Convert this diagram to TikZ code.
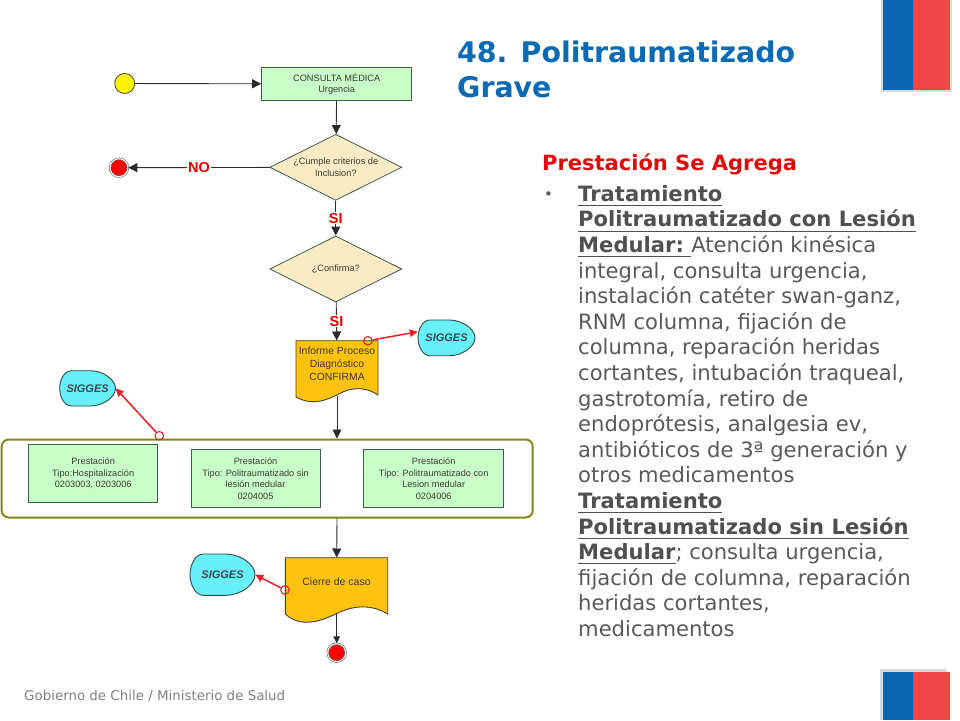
\documentclass[tikz,border=0pt]{standalone}
\usepackage{fontspec}
\setmainfont{DejaVu Sans}
\newfontfamily\arialf{Liberation Sans}
\usetikzlibrary{arrows.meta,shapes.geometric,calc}
\definecolor{bluef}{HTML}{0B66B2}
\definecolor{redf}{HTML}{F24646}
\definecolor{titleblue}{HTML}{0B6AB4}
\definecolor{headred}{HTML}{E00A0A}
\definecolor{bodygray}{HTML}{595959}
\definecolor{boldgray}{HTML}{505050}
\definecolor{greenbox}{HTML}{C8FFC8}
\definecolor{cream}{HTML}{FBEBC4}
\definecolor{orangedoc}{HTML}{FFC20E}
\definecolor{cyansig}{HTML}{66F0FA}
\definecolor{olivef}{HTML}{85851E}
\definecolor{linegray}{HTML}{2B2B2B}
\definecolor{edgegray}{HTML}{3F5A50}
\definecolor{txtdark}{HTML}{3A3A30}
\definecolor{redline}{HTML}{EE1C25}
\tikzset{
  x=1pt,y=-1pt,
  flow/.style={draw=linegray,line width=0.9pt,-{Triangle[length=9pt,width=9pt]}},
  flowsmall/.style={draw=linegray,line width=0.9pt,-{Triangle[length=7pt,width=6.5pt]}},
  redarrow/.style={draw=redline,line width=1.5pt,-{Triangle[length=8pt,width=7.5pt]}},
  procbox/.style={draw=edgegray,line width=1pt,fill=greenbox,rectangle,inner sep=0pt,align=center,text=txtdark,font=\arialf\fontsize{9.2}{11.6}\selectfont},
  decision/.style={diamond,aspect=2,draw=edgegray,line width=0.8pt,fill=cream,inner sep=0pt,align=center,text=txtdark,font=\arialf\fontsize{9.2}{11.6}\selectfont},
  decisionlabel/.style={text=red!90!black,fill=white,inner sep=0.8pt,font=\arialf\bfseries\fontsize{14.5}{15}\selectfont},
  startdot/.style={circle,draw=black!75,line width=0.8pt,fill=yellow,minimum size=20pt,inner sep=0pt},
  enddot/.style={circle,draw=black!60,double=white,double distance=1pt,line width=0.6pt,fill=red,minimum size=18pt,inner sep=0pt},
  ringdot/.style={circle,draw=redline,line width=1.1pt,minimum size=8.5pt,inner sep=0pt},
  siglabel/.style={inner sep=0pt,text=black!80!cyan,font=\arialf\bfseries\itshape\fontsize{11}{12}\selectfont},
  docshape/.style={draw=black!75,line width=0.9pt,fill=orangedoc},
  sigshape/.style={draw=edgegray!80!black,line width=0.9pt,fill=cyansig},
  doctext/.style={inner sep=0pt,align=center,text=txtdark,font=\arialf\fontsize{10.4}{13}\selectfont},
  flagblue/.style={fill=bluef,draw=none},
  flagred/.style={fill=redf,draw=none},
  flagshadow/.style={fill=black!15,draw=none},
}
\newcommand{\SigShape}[5]{% name x0 y0 x1 y1
  \pgfmathsetmacro{\sgw}{#4-#2}\pgfmathsetmacro{\sgh}{#5-#3}\pgfmathsetmacro{\ym}{(#3+#5)/2}
  \pgfmathsetmacro{\xa}{#2+0.2*\sgw}\pgfmathsetmacro{\xb}{#2+0.55*\sgw}
  \pgfmathsetmacro{\ka}{#2+0.09*\sgw}\pgfmathsetmacro{\kb}{\xb+0.5*(#4-\xb)}
  \pgfmathsetmacro{\kh}{0.25*\sgh}
  \draw[sigshape] (#2,\ym) .. controls (#2,\ym-\kh) and (\ka,#3) .. (\xa,#3)
    -- (\xb,#3) .. controls (\kb,#3) and (#4,\ym-\kh) .. (#4,\ym)
    .. controls (#4,\ym+\kh) and (\kb,#5) .. (\xb,#5) -- (\xa,#5)
    .. controls (\ka,#5) and (#2,\ym+\kh) .. cycle;
  \node[siglabel,minimum width=\sgw pt,minimum height=\sgh pt] (#1) at ({(#2+#4)/2},\ym) {SIGGES};
}
\newcommand{\bul}[1]{{\bfseries\color{boldgray}\underline{\rule[-2.5pt]{0pt}{1pt}#1}}}
\begin{document}
\begin{tikzpicture}
\useasboundingbox (0,0) rectangle (960,720);
\fill[white] (0,0) rectangle (960,720);
% flags
\fill[flagshadow] (881,0) rectangle (952,91.5);
\fill[flagblue] (883,0) rectangle (913,89.5);
\fill[flagred] (913,0) rectangle (950,89.5);
\fill[flagshadow] (880,669) rectangle (947,720);
\fill[flagblue] (883,672) rectangle (913,720);
\fill[flagred] (913,672) rectangle (950,720);
% title and text
\node[anchor=north west,inner sep=0pt,align=left,text=titleblue,font=\bfseries\fontsize{28.4}{35}\selectfont] (title) at (457,40.5) {48. Politraumatizado\\Grave};
\node[anchor=base west,inner sep=0pt,text=headred,font=\bfseries\fontsize{21}{24}\selectfont] (head) at (542,170) {Prestación Se Agrega};
\node[anchor=base west,inner sep=0pt,text=bodygray,font=\fontsize{15}{15}\selectfont] (bullet) at (544,199) {•};
\node[anchor=north west,inner sep=0pt,align=left,text=bodygray,font=\fontsize{21.1}{25.6}\selectfont] (body) at (578,185) {%
\bul{Tratamiento}\\
\bul{Politraumatizado con Lesión}\\
\bul{Medular:~}Atención kinésica\\
integral, consulta urgencia,\\
instalación catéter swan-ganz,\\
RNM columna, fijación de\\
columna, reparación heridas\\
cortantes, intubación traqueal,\\
gastrotomía, retiro de\\
endoprótesis, analgesia ev,\\
antibióticos de 3ª generación y\\
otros medicamentos\\
\bul{Tratamiento}\\
\bul{Politraumatizado sin Lesión}\\
\bul{Medular}; consulta urgencia,\\
fijación de columna, reparación\\
heridas cortantes,\\
medicamentos};
\node[anchor=base west,inner sep=0pt,text=black!50,font=\fontsize{13.4}{14}\selectfont] (foot) at (24,700) {Gobierno de Chile / Ministerio de Salud};
% flowchart nodes
\node[startdot] (start) at (124.7,83.5) {};
\node[procbox,minimum width=150pt,minimum height=33.4pt] (consulta) at (336.7,84) {CONSULTA MÉDICA\\Urgencia};
\node[decision,minimum width=132pt,minimum height=66pt] (d1) at (335.8,167.3) {¿Cumple criterios de\\Inclusion?};
\node[decision,minimum width=132pt,minimum height=66pt] (d2) at (335.8,269) {¿Confirma?};
\node[enddot] (end1) at (119,167.7) {};
% document 1
\draw[docshape] (296,340.7) -- (378,340.7) -- (378,395) .. controls (368,388) and (356,387) .. (345,391) .. controls (332,397) and (316,408) .. (296,397) -- cycle;
\node[doctext,minimum width=82pt,minimum height=46.6pt] (doc1) at (337,364) {Informe Proceso\\Diagnóstico\\CONFIRMA};
% container
\node[draw=olivef,line width=2pt,rounded corners=7pt,minimum width=531pt,minimum height=78pt,inner sep=0pt] (group) at (267.2,478.5) {};
\node[procbox,minimum width=129pt,minimum height=57.7pt] (p1) at (93.2,473.2) {Prestación\\Tipo:Hospitalización\\0203003, 0203006};
\node[procbox,minimum width=129pt,minimum height=57.6pt] (p2) at (255.5,478.5) {Prestación\\Tipo: Politraumatizado sin\\lesión medular\\0204005};
\node[procbox,minimum width=140pt,minimum height=57.6pt] (p3) at (433.7,478.7) {Prestación\\Tipo: Politraumatizado con\\Lesion medular\\0204006};
% document 2
\draw[docshape] (285.3,557.7) -- (387.7,557.7) -- (387.7,614) .. controls (375,606) and (358,604) .. (340,612) .. controls (325,619) and (303,630) .. (285.3,614) -- cycle;
\node[doctext,minimum width=102.4pt,minimum height=48pt,font=\arialf\fontsize{10.5}{13}\selectfont] (doc2) at (336.5,581.7) {Cierre de caso};
\node[enddot] (end2) at (336.7,652.7) {};
% SIGGES
\SigShape{sigA}{418}{320}{475}{355.7}
\SigShape{sigB}{59.7}{370.7}{115.5}{406}
\SigShape{sigC}{190}{554}{255}{595.3}
\node[ringdot] (r1) at (368,340.7) {};
\node[ringdot] (r2) at (159.3,435.7) {};
\node[ringdot] (r3) at (285,590) {};
% connectors
\draw[flow] (start) -- (consulta);
\draw[flow] (consulta) -- (d1);
\draw[flow] (d1) -- (end1) node[decisionlabel,pos=0.5] (no) {NO};
\draw[flow] (d1) -- (d2) node[decisionlabel,midway] (si1) {SI};
\draw[flow] (d2) -- (doc1) node[decisionlabel,pos=0.5] (si2) {SI};
\coordinate (doc1out) at (337,396);
\draw[flow] (doc1out) -- (doc1out |- group.north);
\coordinate (grpout) at (337,518.5);
\draw[flow] (grpout) -- (doc2);
\coordinate (doc2out) at (336.7,613);
\draw[flowsmall] (doc2out) -- (end2);
\draw[redarrow] (r1) -- (sigA.168);
\draw[redarrow] (r2) -- (sigB.east);
\draw[redarrow] (r3) -- (sigC.east);
\end{tikzpicture}
\end{document}
